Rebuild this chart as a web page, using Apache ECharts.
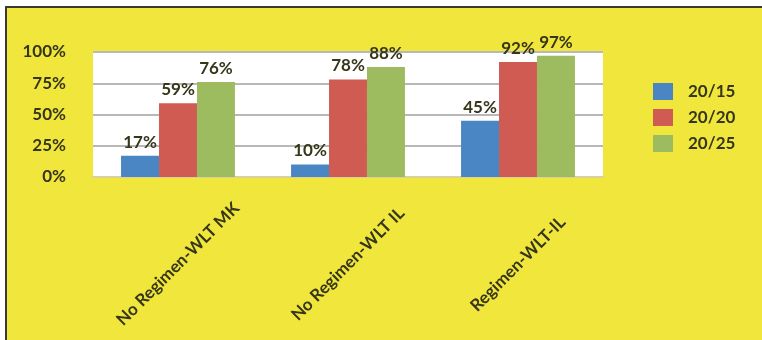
<!DOCTYPE html>
<html>
<head>
<meta charset="utf-8">
<script src="https://cdn.jsdelivr.net/npm/echarts@6/dist/echarts.min.js"></script>
<style>
  html, body { margin: 0; padding: 0; background: #ffffff; }
  #wrap { position: absolute; left: 5px; top: 6px; width: 755px; height: 332px;
          border-left: 2px solid #3a3a32; border-top: 2px solid #3a3a32; background: #f1e73c; }
  #chart { width: 755px; height: 332px; }
</style>
</head>
<body>
<div id="wrap"><div id="chart"></div></div>
<script>
const categories = ['No Regimen-WLT MK', 'No Regimen-WLT IL', 'Regimen-WLT-IL'];
const seriesNames = ['20/15', '20/20', '20/25'];
const values2015 = [17, 10, 45];
const values2020 = [59, 78, 92];
const values2025 = [76, 88, 97];
const yTicks = [0, 25, 50, 75, 100];

const colors = ['#4a86c4', '#cf5b52', '#9dbb5f'];
const textColor = '#36361a';
const font = 'Lato';

const chart = echarts.init(document.getElementById('chart'), null, { renderer: 'canvas' });
const allValues = [values2015, values2020, values2025];
chart.setOption({
  animation: false,
  backgroundColor: 'transparent',
  textStyle: { fontFamily: font },
  grid: { left: 86, right: 159, top: 44, bottom: 163, backgroundColor: '#ffffff', show: true, borderWidth: 0,
          outerBoundsMode: 'none' },
  legend: {
    orient: 'vertical', left: 646, top: 75, padding: 0,
    itemWidth: 20, itemHeight: 17, itemGap: 9,
    icon: 'rect',
    textStyle: { fontFamily: font, fontWeight: 'bold', fontSize: 17, color: textColor, padding: [0, 0, 0, 10] },
    data: seriesNames
  },
  xAxis: {
    type: 'category', data: categories,
    axisLine: { show: true, lineStyle: { color: '#d8d29a', width: 2 } },
    axisTick: { show: false },
    axisLabel: {
      interval: 0, rotate: 45, align: 'center', verticalAlign: 'middle', margin: 87,
      fontFamily: font, fontWeight: 'bold', fontSize: 17, color: textColor
    }
  },
  yAxis: {
    type: 'value', min: yTicks[0], max: yTicks[yTicks.length - 1], interval: 25,
    axisLine: { show: false }, axisTick: { show: false },
    splitLine: { lineStyle: { color: '#b8b8b8', width: 2 } },
    axisLabel: {
      formatter: v => v + '%', margin: 27,
      fontFamily: font, fontWeight: 'bold', fontSize: 17, color: textColor
    }
  },
  series: seriesNames.map((name, i) => ({
    name, type: 'bar', data: allValues[i],
    barGap: '0%', barCategoryGap: '33%',
    itemStyle: { color: colors[i] },
    label: {
      show: true, position: 'top', distance: 5,
      formatter: p => p.value + '%',
      fontFamily: font, fontWeight: 'bold', fontSize: 17, color: textColor
    }
  }))
});
</script>
</body>
</html>
